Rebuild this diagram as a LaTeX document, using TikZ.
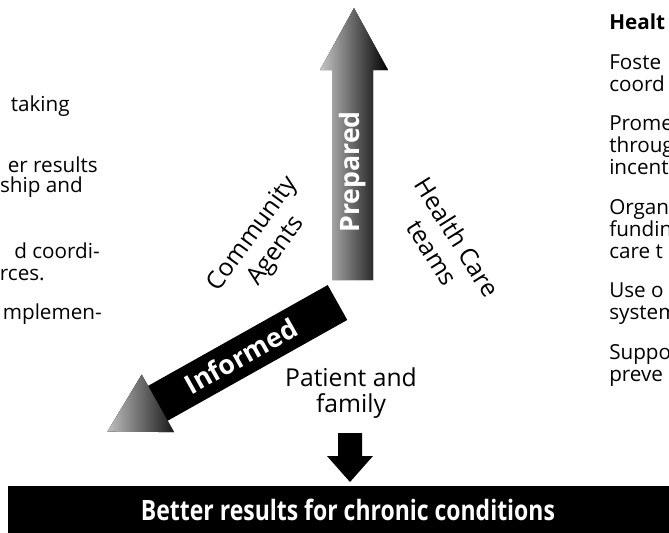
\documentclass[tikz,border=0pt]{standalone}
\usepackage{fontspec}
\setmainfont{Open Sans}
\usepackage{graphicx}
\begin{document}
\begin{tikzpicture}[x=0.75pt,y=-0.75pt,
  coltext/.style={font=\fontsize{15.5}{16.5}\selectfont, inner sep=0pt, anchor=base west},
  coltextr/.style={font=\fontsize{15.5}{16.5}\selectfont, inner sep=0pt, anchor=base east},
  lbl/.style={font=\fontsize{18.5}{22}\selectfont, align=center, inner sep=0pt},
  arrlbl/.style={font=\bfseries\fontsize{20}{24}\selectfont, text=white, inner sep=0pt},
]
\useasboundingbox (0,0) rectangle (669,533);
\clip (0,0) rectangle (669,533);
\fill[white] (0,0) rectangle (669,533);

% left column (cut off by the left edge)
\node[coltextr] (l1) at (70,111) {taking};
\node[coltextr] (l2) at (98,172) {er results};
\node[coltextr] (l3) at (83,192) {ship and};
\node[coltextr] (l4) at (100,258) {d coordi-};
\node[coltextr] (l5) at (45,280) {rces.};
\node[coltextr] (l6) at (102,319) {mplemen-};

% right column (cut off by the right edge)
\node[coltext,font=\bfseries\fontsize{15.5}{16.5}\selectfont] (r0) at (609,29) {Healt};
\node[coltext] (r1) at (609,69) {Foste};
\node[coltext] (r2) at (609,91) {coord};
\node[coltext] (r3) at (609,130) {Prome};
\node[coltext] (r4) at (609,152) {throug};
\node[coltext] (r5) at (609,174) {incent};
\node[coltext] (r6) at (609,214) {Organ};
\node[coltext] (r7) at (609,236) {fundin};
\node[coltext] (r8) at (609,258) {care t};
\node[coltext] (r9) at (609,297) {Use o};
\node[coltext] (r10) at (609,319) {system};
\node[coltext] (r11) at (609,359) {Suppo};
\node[coltext] (r12) at (609,381) {preve};

% Prepared arrow (upwards)
\fill[left color=gray!45, middle color=black!90, right color=black]
  (332,280) -- (332,70) -- (320,70) -- (354,8) -- (388,70) -- (373,70) -- (373,280) -- cycle;
\node[arrlbl, rotate=90] (prep) at (353,172) {Prepared};

% Informed arrow (down-left)
\begin{scope}[shift={(337.5,302.5)}, rotate=209.3]
  \fill[black] (0,-20) -- (207,-20) -- (207,20) -- (0,20) -- cycle;
  \fill[left color=gray!50, right color=black!90]
    (206,-20) -- (206,-33) -- (264,0) -- (206,33) -- (206,20) -- cycle;
\end{scope}
\node[arrlbl, rotate=29.3] (inf) at (241,356) {Informed};

% labels round the arrows
\node[lbl, rotate=54] (comm) at (265,243) {Community\\Agents};
\node[lbl, rotate=-58] (hct) at (445,245) {Health Care\\teams};
\node[lbl, font=\fontsize{18.5}{19}\selectfont] (pat) at (351,393) {Patient and\\family};

% small down arrow
\fill[black] (338,433) -- (362,433) -- (362,456) -- (373,456) -- (350,482) -- (327,456) -- (338,456) -- cycle;

% bottom bar
\fill[black] (8,486) rectangle (669,533);
\node[text=white, inner sep=0pt, font=\bfseries\fontsize{21}{24}\selectfont] (bar) at (348,510)
  {\scalebox{0.82}[1]{Better results for chronic conditions}};
\end{tikzpicture}
\end{document}
